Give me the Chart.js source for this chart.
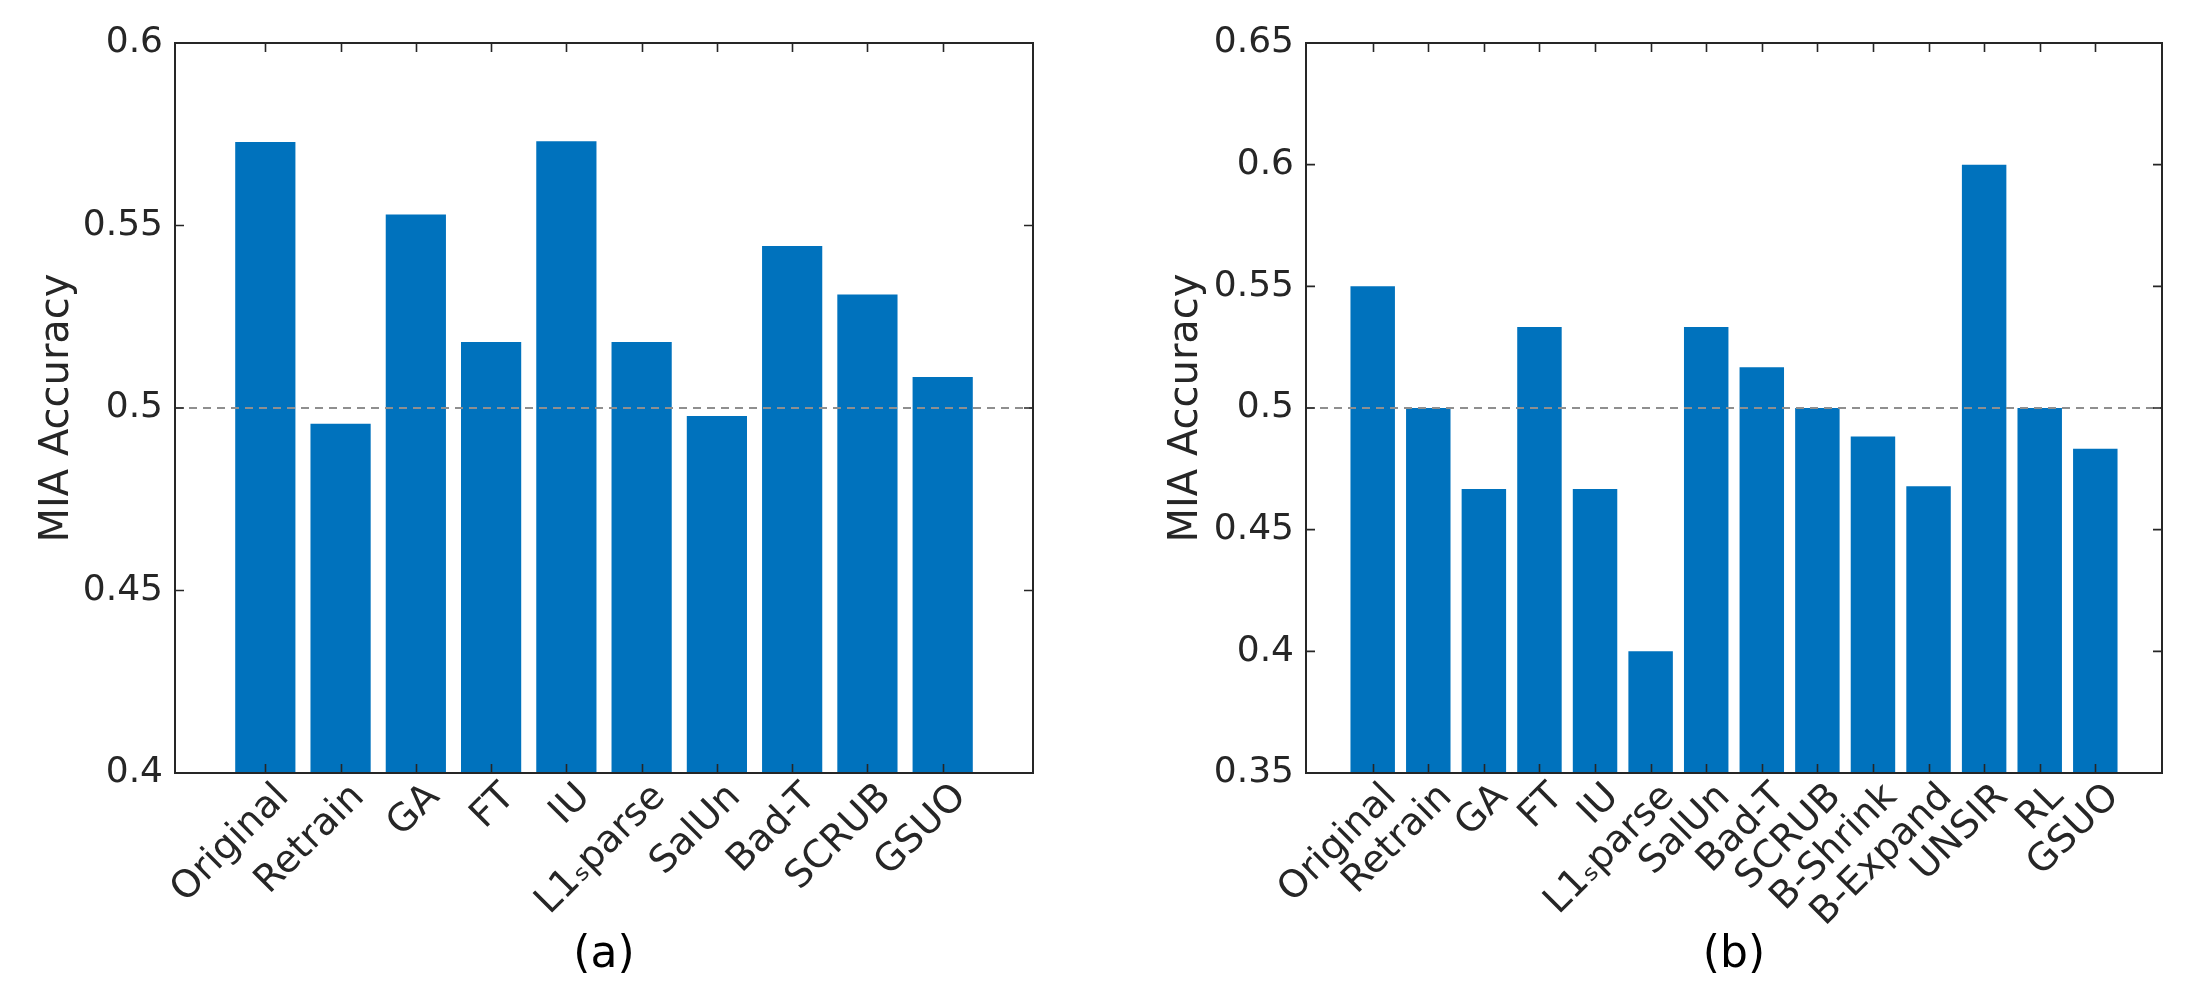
<!DOCTYPE html>
<html><head><meta charset="utf-8">
<script src="https://cdn.jsdelivr.net/npm/chart.js@4/dist/chart.umd.min.js"></script>
<style>
html,body{margin:0;padding:0;background:#fff;}
#wrap{position:relative;width:2208px;height:996px;background:#fff;}
.box{position:absolute;top:0;width:1104px;height:996px;}
#boxA{left:0;}
#boxB{left:1104px;}
</style></head><body>
<div id="wrap"><div class="box" id="boxA"><canvas id="cA" width="1104" height="996"></canvas></div><div class="box" id="boxB"><canvas id="cB" width="1104" height="996"></canvas></div></div>
<script>
const categoriesA = ['Original','Retrain','GA','FT','IU','L1\u209Bparse','SalUn','Bad-T','SCRUB','GSUO'];
const valuesA = [0.5729,0.4957,0.5530,0.5181,0.5731,0.5181,0.4978,0.5444,0.5311,0.5085];
const categoriesB = ['Original','Retrain','GA','FT','IU','L1\u209Bparse','SalUn','Bad-T','SCRUB','B-Shrink','B-Expand','UNSIR','RL','GSUO'];
const valuesB = [0.55,0.50,0.4667,0.5333,0.4667,0.40,0.5333,0.5167,0.50,0.4883,0.4678,0.60,0.50,0.4833];
const yTicksA = [0.4,0.45,0.5,0.55,0.6];
const yTickLabelsA = ['0.4','0.45','0.5','0.55','0.6'];
const yTicksB = [0.35,0.4,0.45,0.5,0.55,0.6,0.65];
const yTickLabelsB = ['0.35','0.4','0.45','0.5','0.55','0.6','0.65'];
const yTitle = 'MIA Accuracy';
const captionA = '(a)';
const captionB = '(b)';
const refLevel = 0.5;

Chart.defaults.font.family = "'DejaVu Sans', sans-serif";
Chart.defaults.color = '#262626';

const framePlugin = {
  id: 'frame',
  afterDatasetsDraw(chart, args, opts) {
    const {ctx, chartArea: a, scales: {x, y}} = chart;
    ctx.save();
    const yr = y.getPixelForValue(opts.ref);
    ctx.strokeStyle = '#8f8f8f'; ctx.lineWidth = 2; ctx.setLineDash([8, 6]);
    ctx.beginPath(); ctx.moveTo(a.left, yr); ctx.lineTo(a.right, yr); ctx.stroke();
    ctx.setLineDash([]);
    ctx.strokeStyle = '#262626'; ctx.lineWidth = 1.6;
    const tl = opts.tickLen;
    ctx.beginPath();
    x.ticks.forEach(t => { const px = Math.round(x.getPixelForValue(t.value)) + 0.5;
      ctx.moveTo(px, a.bottom); ctx.lineTo(px, a.bottom - tl);
      ctx.moveTo(px, a.top); ctx.lineTo(px, a.top + tl); });
    y.ticks.forEach(t => { const py = y.getPixelForValue(t.value);
      ctx.moveTo(a.left, py); ctx.lineTo(a.left + tl, py);
      ctx.moveTo(a.right, py); ctx.lineTo(a.right - tl, py); });
    ctx.stroke();
    ctx.lineWidth = 2;
    ctx.strokeRect(a.left, a.top, a.right - a.left, a.bottom - a.top);
    ctx.restore();
  }
};

function makeChart(id, cats, vals, yTicks, yLabels, caption, L) {
  const data = cats.map((c, i) => ({x: i + 1, y: vals[i]}));
  return new Chart(document.getElementById(id), {
    type: 'bar',
    data: {datasets: [{data, backgroundColor: '#0072BD', borderWidth: 0, barPercentage: 0.8, categoryPercentage: 1}]},
    plugins: [framePlugin],
    options: {
      responsive: false, animation: false, devicePixelRatio: 1,
      layout: {padding: {left: 0, right: L.padRight, top: 43, bottom: 0}},
      plugins: {legend: {display: false}, tooltip: {enabled: false}, frame: {ref: refLevel, tickLen: 9}},
      scales: {
        x: {
          type: 'linear', min: -0.2, max: cats.length + 1.2, offset: false,
          grid: {display: false, drawTicks: false}, border: {display: false},
          afterBuildTicks: s => { s.ticks = cats.map((c, i) => ({value: i + 1})); },
          ticks: {autoSkip: false, minRotation: 45, maxRotation: 45, padding: 2, labelOffset: 18,
            font: {size: 38}, color: '#262626',
            callback: v => cats[v - 1]},
          title: {display: true, text: caption, font: {size: 44}, color: '#000', padding: {top: 0, bottom: 14}},
          afterFit: s => { s.height = 223; s.paddingLeft = 0; s.paddingRight = 0; }
        },
        y: {
          type: 'linear', min: yTicks[0], max: yTicks[yTicks.length - 1],
          grid: {display: false, drawTicks: false}, border: {display: false},
          afterBuildTicks: s => { s.ticks = yTicks.map(v => ({value: v})); },
          ticks: {padding: 12, font: {size: 36}, color: '#262626',
            callback: (v, i) => yLabels[i]},
          title: {display: true, text: yTitle, font: {size: 40}, color: '#262626', padding: {top: L.titlePad, bottom: 0}},
          afterFit: s => { s.width = L.axisW; s.paddingTop = 0; s.paddingBottom = 0; }
        }
      }
    }
  });
}

makeChart('cA', categoriesA, valuesA, yTicksA, yTickLabelsA, captionA, {axisW: 175, padRight: 71, titlePad: 34});
makeChart('cB', categoriesB, valuesB, yTicksB, yTickLabelsB, captionB, {axisW: 202, padRight: 46, titlePad: 59});
</script>
</body></html>
